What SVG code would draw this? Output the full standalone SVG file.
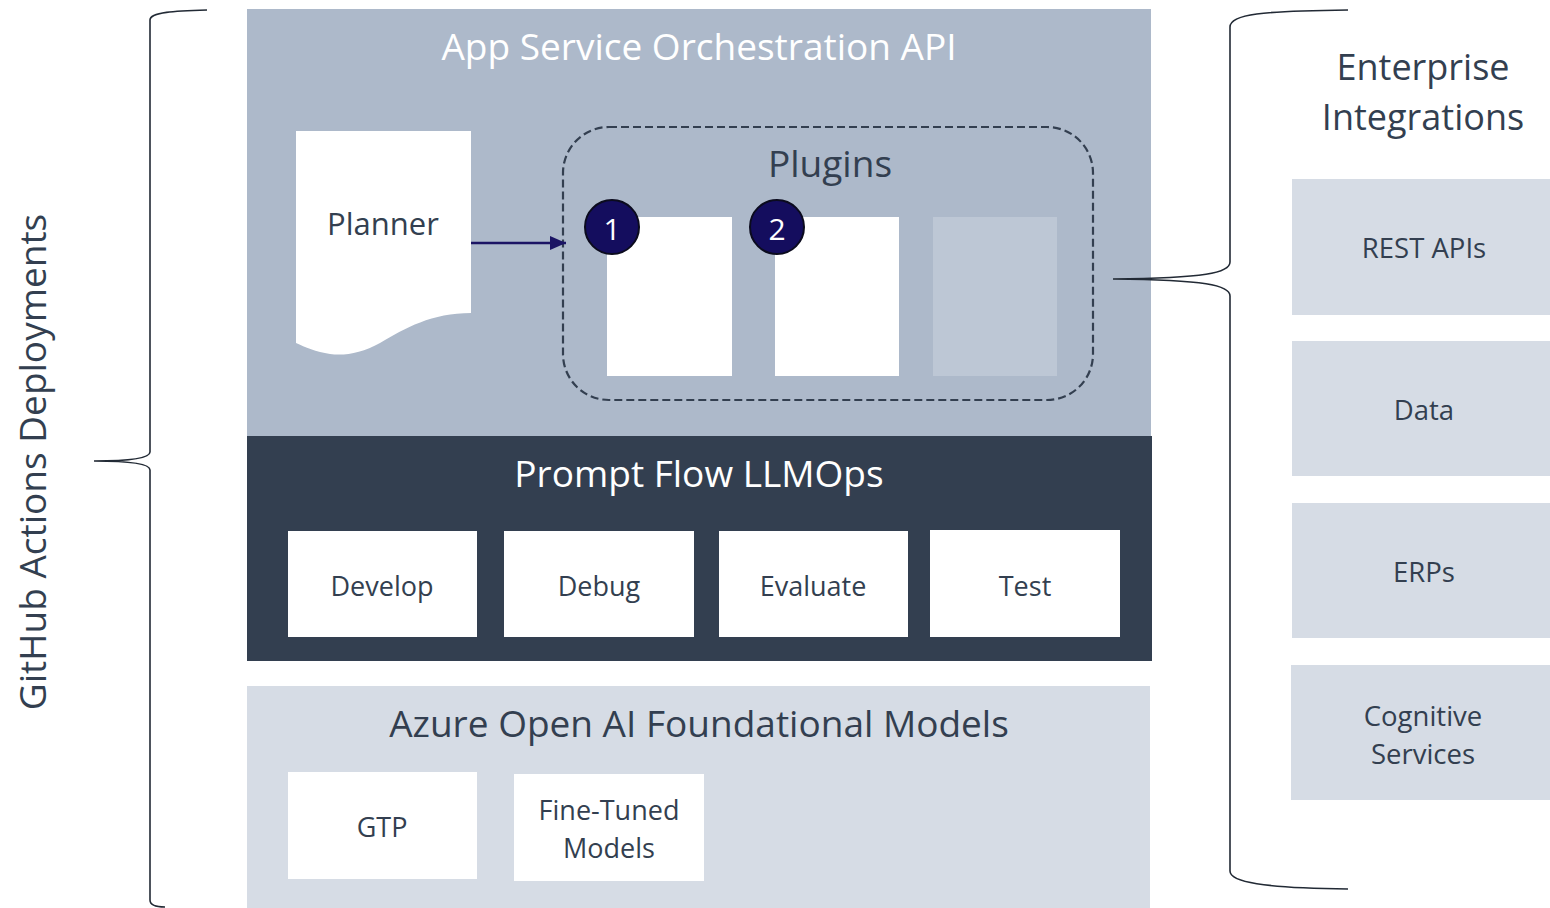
<svg xmlns="http://www.w3.org/2000/svg" width="1550" height="908" viewBox="0 0 1550 908">
  <defs>
    <style>
      text { font-family: "Open Sans", "Noto Sans", "Liberation Sans", sans-serif; text-anchor: middle; }
      .dark { fill: #333F50; }
      .white { fill: #FFFFFF; }
      .hdr { font-size: 37px; }
      .item { font-size: 27px; }
      .ent-t { font-size: 27.5px; }
      .box { fill: #FFFFFF; }
      .ent { fill: #D6DCE5; }
      .brace { fill: none; stroke: #222A35; stroke-width: 1.6; }
      .badge { fill: #140D5E; stroke: #0B0B1E; stroke-width: 2; }
    </style>
    <marker id="arrow" viewBox="0 0 16 14" refX="16" refY="7" markerWidth="16" markerHeight="14" markerUnits="userSpaceOnUse" orient="auto">
      <path d="M0,0 L16,7 L0,14 Z" fill="#1B1464"/>
    </marker>
  </defs>

  <!-- Orchestration layer -->
  <g id="orchestration">
    <rect x="247" y="9" width="904" height="427" fill="#ADB9CA"/>
    <text class="white hdr" x="699" y="60">App Service Orchestration API</text>
  </g>

  <g id="planner">
    <path d="M296,131 H471 V313 C432,313 405,328 380,343 C362,353 345,356 330,354 C316,352 305,347 296,343 Z" fill="#FFFFFF"/>
    <text class="dark" x="383" y="235" font-size="31">Planner</text>
  </g>

  <g id="plugins">
    <rect x="563" y="127" width="530" height="273" rx="46" ry="46" fill="none" stroke="#333F50" stroke-width="2.2" stroke-dasharray="8 4"/>
    <text class="dark" x="830" y="177" font-size="37">Plugins</text>
  </g>

  <g id="plugin-1">
    <rect class="box" x="607" y="217" width="125" height="159"/>
    <circle class="badge" cx="612" cy="227" r="27"/>
    <text class="white" x="612" y="240" font-size="30">1</text>
  </g>
  <g id="plugin-2">
    <rect class="box" x="775" y="217" width="124" height="159"/>
    <circle class="badge" cx="777" cy="227" r="27"/>
    <text class="white" x="777" y="240" font-size="30">2</text>
  </g>
  <g id="plugin-3">
    <rect x="933" y="217" width="124" height="159" fill="#BDC7D5"/>
  </g>

  <!-- Prompt Flow layer -->
  <g id="promptflow">
    <rect x="247" y="436" width="905" height="225" fill="#333F50"/>
    <text class="white hdr" x="699" y="487">Prompt Flow LLMOps</text>
  </g>
  <g id="develop">
    <rect class="box" x="288" y="531" width="189" height="106"/>
    <text class="dark item" x="382" y="596">Develop</text>
  </g>
  <g id="debug">
    <rect class="box" x="504" y="531" width="190" height="106"/>
    <text class="dark item" x="599" y="596">Debug</text>
  </g>
  <g id="evaluate">
    <rect class="box" x="719" y="531" width="189" height="106"/>
    <text class="dark item" x="813" y="596">Evaluate</text>
  </g>
  <g id="test">
    <rect class="box" x="930" y="530" width="190" height="107"/>
    <text class="dark item" x="1025" y="596">Test</text>
  </g>

  <!-- Foundational models layer -->
  <g id="models">
    <rect x="247" y="686" width="903" height="222" fill="#D6DCE5"/>
    <text class="dark hdr" x="699" y="737">Azure Open AI Foundational Models</text>
  </g>
  <g id="gtp">
    <rect class="box" x="288" y="772" width="189" height="107"/>
    <text class="dark item" x="382" y="837">GTP</text>
  </g>
  <g id="finetuned">
    <rect class="box" x="514" y="774" width="190" height="107"/>
    <text class="dark item" x="609" y="820">Fine-Tuned</text>
    <text class="dark item" x="609" y="858">Models</text>
  </g>

  <!-- Enterprise integrations -->
  <g id="enterprise">
    <text class="dark" x="1423" y="80" font-size="36">Enterprise</text>
    <text class="dark" x="1423" y="130" font-size="36">Integrations</text>
  </g>
  <g id="rest-apis">
    <rect class="ent" x="1292" y="179" width="258" height="136"/>
    <text class="dark ent-t" x="1424" y="258">REST APIs</text>
  </g>
  <g id="data">
    <rect class="ent" x="1292" y="341" width="258" height="135"/>
    <text class="dark ent-t" x="1424" y="420">Data</text>
  </g>
  <g id="erps">
    <rect class="ent" x="1292" y="503" width="258" height="135"/>
    <text class="dark ent-t" x="1424" y="582">ERPs</text>
  </g>
  <g id="cognitive">
    <rect class="ent" x="1291" y="665" width="259" height="135"/>
    <text class="dark ent-t" x="1423" y="726">Cognitive</text>
    <text class="dark ent-t" x="1423" y="764">Services</text>
  </g>

  <!-- GitHub label -->
  <g id="github">
    <text class="dark" x="0" y="0" font-size="37" transform="translate(46,462) rotate(-90)">GitHub Actions Deployments</text>
  </g>

  <!-- Connectors -->
  <g id="connectors">
    <line x1="471" y1="243" x2="566" y2="243" stroke="#1B1464" stroke-width="2.5" marker-end="url(#arrow)"/>
    <path class="brace" d="M207,10 C175,11 150,12 150,20 V452 C150,458 130,461 94,461 C130,461 150,464 150,470 V900 C150,904 154,907 165,907"/>
    <path class="brace" d="M1348,10 C1262,11 1230,14 1230,27 V262 C1230,273 1205,278 1113,279 C1205,280 1230,285 1230,296 V871 C1230,882 1262,888 1348,889"/>
  </g>
</svg>
